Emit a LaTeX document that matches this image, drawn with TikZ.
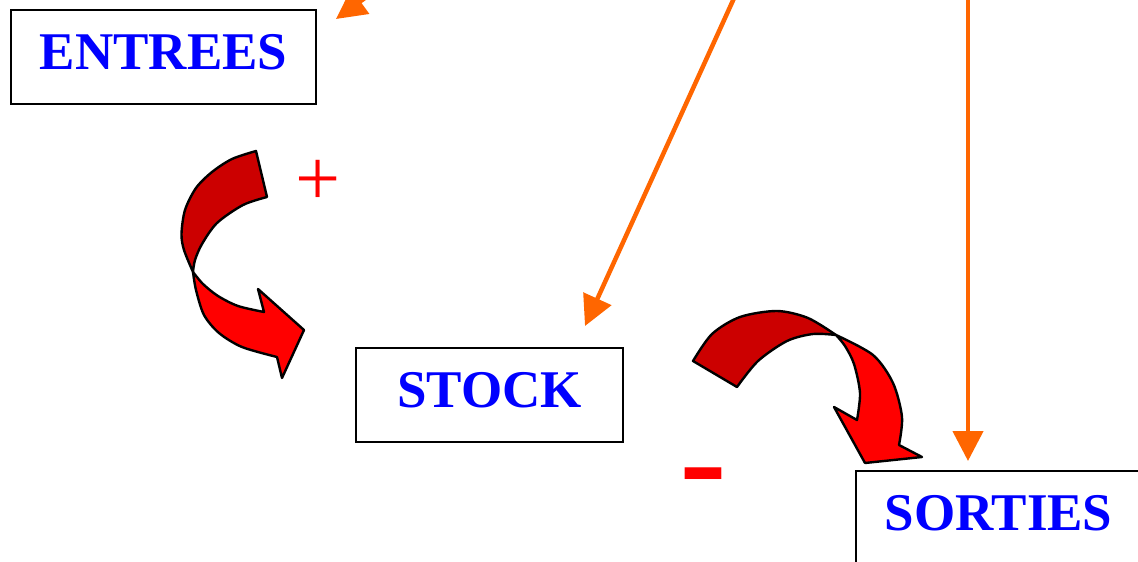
\documentclass[tikz,border=0pt]{standalone}
\usepackage{fontspec}
\setmainfont{Liberation Serif}
\newfontfamily\sansf{Liberation Sans}
\usetikzlibrary{arrows.meta}
\definecolor{boxblue}{RGB}{0,0,255}
\definecolor{arrorange}{RGB}{255,102,0}
\definecolor{darkred}{RGB}{204,0,0}
\definecolor{brightred}{RGB}{255,0,0}
\begin{document}
\begin{tikzpicture}[x=1pt,y=-1pt,
  labelbox/.style={draw=black, line width=2pt, fill=white, text=boxblue,
    font=\fontsize{53}{60}\selectfont\bfseries, text depth=11pt, inner sep=0pt,
    minimum height=94pt},
  feed/.style={draw=arrorange, line width=4.5pt, -{Triangle[length=30pt,width=30pt]}},
  ribbon/.style={draw=black, line width=2.4pt, line join=round},
  sign/.style={text=brightred, inner sep=0pt}]
\useasboundingbox (0,0) rectangle (1138,562);
\clip (0,0) rectangle (1138,562);

% boxes
\node[labelbox, minimum width=305pt] (entrees) at (163.5,57) {ENTREES};
\node[labelbox, minimum width=267pt] (stock) at (489.5,395) {STOCK};
\node[labelbox, minimum width=285pt] (sorties) at (998.5,518) {SORTIES};

% orange arrows
\coordinate (srcA) at (498,-99);
\coordinate (tipA) at (336,19);
\coordinate (srcB) at (745,-26);
\coordinate (tipB) at (585,326);
\coordinate (srcC) at (968,-20);
\coordinate (tipC) at (968,461);
\draw[feed] (srcA) -- (tipA);
\draw[feed] (srcB) -- (tipB);
\draw[feed] (srcC) -- (tipC);

% left curved arrow (entrees -> stock)
\path[ribbon, fill=darkred]
  plot[smooth] coordinates {(193,272) (184,250) (181.5,234) (185,210) (196,188) (212,172) (232,159) (256,151)}
  -- (267,197)
  -- plot[smooth] coordinates {(267,197) (243,205) (217,223) (202,244) (195,260) (193,272)}
  -- cycle;
\path[ribbon, fill=brightred]
  plot[smooth] coordinates {(193,272) (196,290) (204,315) (219,333) (242,347) (277,357)}
  -- (282,378) -- (304,330) -- (258,289) -- (264,312)
  -- plot[smooth] coordinates {(264,312) (238,306) (218,296) (203,284) (193,272)}
  -- cycle;

% right curved arrow (stock -> sorties)
\path[ribbon, fill=darkred]
  plot[smooth] coordinates {(693,361) (712,334) (740,317) (777,311) (808,318) (836,335)}
  -- plot[smooth] coordinates {(836,335) (813,334) (787,341) (758,361) (737,387)}
  -- cycle;
\path[ribbon, fill=brightred]
  plot[smooth] coordinates {(836,335) (873,355) (893,383) (902,417) (899,445)}
  -- (922,457) -- (865,463) -- (834,407) -- (857,420)
  -- plot[smooth] coordinates {(857,420) (860,393) (854,364) (845,346) (836,335)}
  -- cycle;

% signs
\node[sign, font=\fontsize{80}{84}\selectfont] (plus) at (318,183) {+};
\node[sign, font=\sansf\fontsize{150}{155}\selectfont] (minus) at (703.5,491) {-};
\end{tikzpicture}
\end{document}
